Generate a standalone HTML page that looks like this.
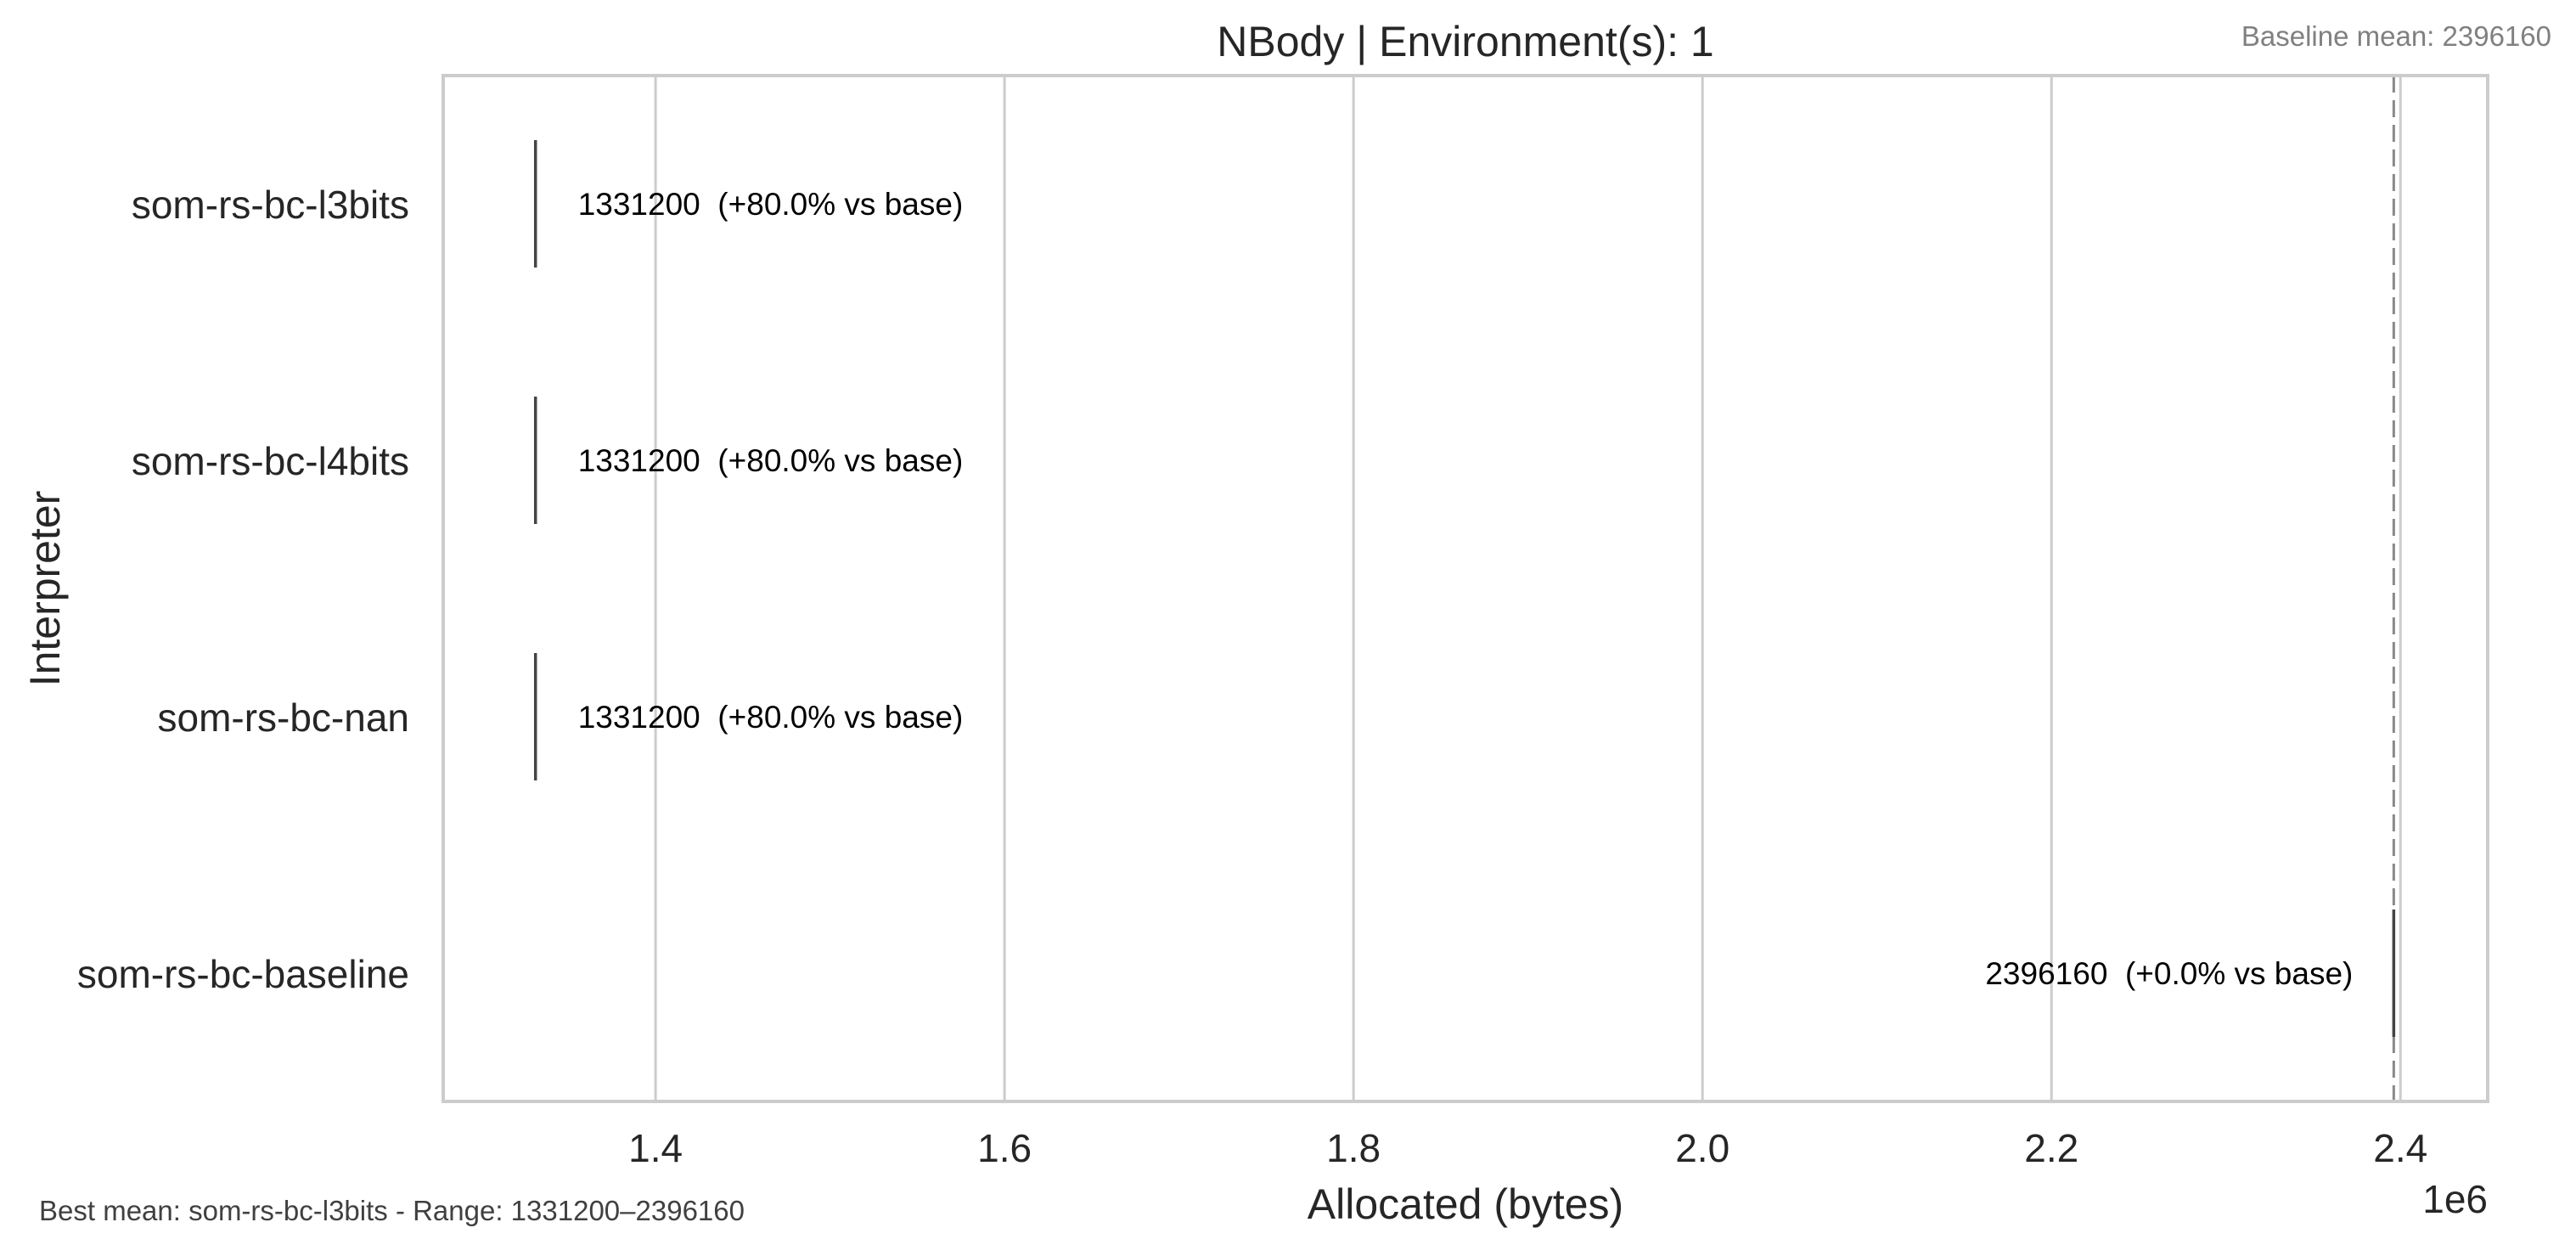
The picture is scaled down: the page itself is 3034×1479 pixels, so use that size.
<!DOCTYPE html>
<html><head><meta charset="utf-8"><style>
body{margin:0;background:#fff}
svg text{font-family:"Liberation Sans",sans-serif}
</style></head><body>
<svg id="chart" width="3034" height="1474" xmlns="http://www.w3.org/2000/svg">
<rect width="3034" height="1474" fill="#fff"/>
<g id="grid"></g>
<g id="marks"></g>
<rect x="522" y="89" width="2408" height="1208" fill="none" stroke="#cccccc" stroke-width="4"/>
<text x="1726" y="66" font-size="50" text-anchor="middle" fill="#262626">NBody | Environment(s): 1</text>
<text x="3005" y="54" font-size="33" text-anchor="end" fill="#808080">Baseline mean: 2396160</text>
<text x="1726" y="1435" font-size="50" text-anchor="middle" fill="#262626">Allocated (bytes)</text>
<text x="2930" y="1428" font-size="46" text-anchor="end" fill="#262626">1e6</text>
<text transform="translate(70,693) rotate(-90)" font-size="50" text-anchor="middle" fill="#262626">Interpreter</text>
<text x="46" y="1437" font-size="33" fill="#404040">Best mean: som-rs-bc-l3bits - Range: 1331200–2396160</text>
<g id="ticks"></g>
</svg>
<script>
const categories=["som-rs-bc-l3bits","som-rs-bc-l4bits","som-rs-bc-nan","som-rs-bc-baseline"];
const values=[1331200,1331200,1331200,2396160];
const baseline=2396160;
const xTicks=[1.4,1.6,1.8,2.0,2.2,2.4];
const xTickLabels=["1.4","1.6","1.8","2.0","2.2","2.4"];
const NS="http://www.w3.org/2000/svg";
const L=522,R=2930,T=89,B=1297;
const xmin=1.2783e6,xmax=2.4500e6;
function x(v){return L+(v-xmin)/(xmax-xmin)*(R-L);}
const band=(B-T)/categories.length;
function y(i){return T+band*(i+0.5);}
function mk(tag,attrs,parent){const e=document.createElementNS(NS,tag);for(const k in attrs)e.setAttribute(k,attrs[k]);parent.appendChild(e);return e;}
const grid=document.getElementById('grid'),ticks=document.getElementById('ticks'),marks=document.getElementById('marks');
xTicks.forEach((t,i)=>{
  const g=mk('line',{x1:x(t*1e6),x2:x(t*1e6),y1:T,y2:B,stroke:'#cccccc','stroke-width':3},grid);
  
  
  const tx=mk('text',{x:x(t*1e6),y:1368,'font-size':46,'text-anchor':'middle',fill:'#262626'},ticks);
  tx.textContent=xTickLabels[i];
  
  
});
categories.forEach((c,i)=>{
  const tl=mk('text',{x:482,y:y(i)+17,'font-size':46,'text-anchor':'end',fill:'#262626'},ticks);
  tl.textContent=c;
  
  
});
const bl=mk('line',{x1:x(baseline),x2:x(baseline),y1:T,y2:B,stroke:'#888','stroke-width':3,'stroke-dasharray':'20 9'},marks);


categories.forEach((c,i)=>{
  const v=values[i],xv=x(v);
  const m=mk('line',{x1:xv,x2:xv,y1:y(i)-75,y2:y(i)+75,stroke:'#444','stroke-width':3.5},marks);
  
  
  const pct=((baseline/v-1)*100).toFixed(1);
  const right=xv>(L+R)/2;
  const t=mk('text',{x:right?xv-48:xv+50,y:y(i)+13,'font-size':37,'text-anchor':right?'end':'start',fill:'#000'},marks);
  t.textContent=v+"  (+"+pct+"% vs base)";
  t.setAttribute('xml:space','preserve');
  t.style.whiteSpace='pre';
  
  
});
</script>
</body></html>
